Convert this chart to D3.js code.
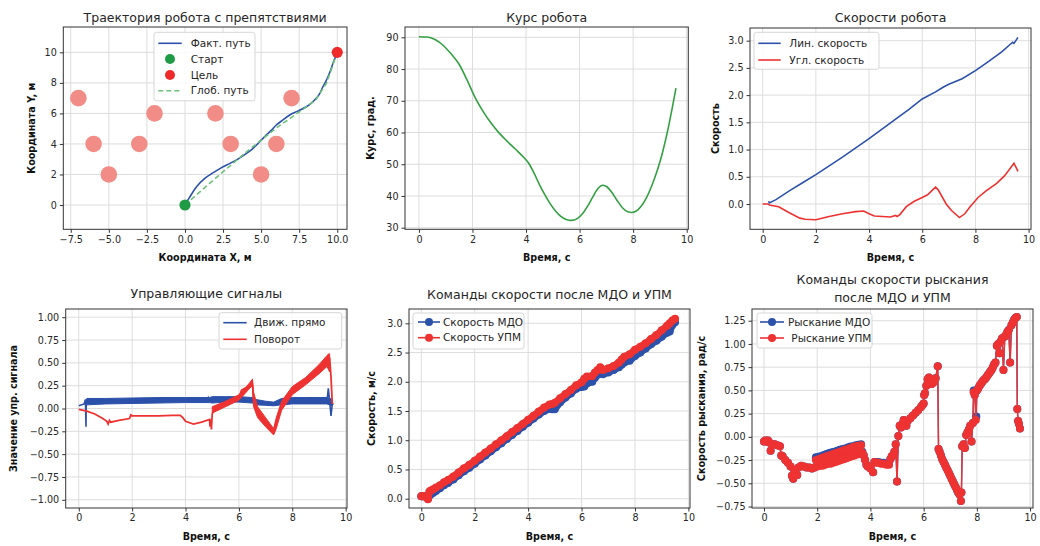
<!DOCTYPE html>
<html>
<head>
<meta charset="utf-8">
<script src="https://cdnjs.cloudflare.com/ajax/libs/d3/7.8.5/d3.min.js"></script>
<style>
body { margin: 0; background: #fff; }
svg { font-family: "DejaVu Sans", sans-serif; }
</style>
</head>
<body>
<svg id="fig" width="1040" height="546"></svg>
<script>
// траектория
var obstX = [-7, -6, -5, -3, -2, 2, 3, 5, 6, 7];
var obstY = [7, 4, 2, 4, 6, 6, 4, 2, 4, 7];
var pathX = [0, 0.3, 0.76, 1.3, 1.86, 2.4, 2.95, 3.5, 4.04, 4.4, 4.7, 5.0, 5.35, 5.7, 6.0, 6.4, 6.88, 7.4, 7.97, 8.3, 8.62, 8.85, 9.06, 9.25, 9.39, 9.55, 9.72, 9.88, 10];
var pathY = [0, 0.5, 1.2, 1.75, 2.12, 2.45, 2.73, 3.02, 3.38, 3.65, 3.93, 4.25, 4.59, 4.92, 5.24, 5.55, 5.9, 6.15, 6.44, 6.68, 6.99, 7.3, 7.75, 8.1, 8.4, 8.8, 9.28, 9.7, 10];
var globX = [0, 2, 4, 6, 7.8, 8.6, 9.3, 10];
var globY = [0, 1.75, 3.45, 5.05, 6.3, 6.9, 8.0, 10];
var startPt = [0, 0], goalPt = [10, 10];

// курс
var headT = [0, 0.3, 0.6, 0.9, 1.2, 1.5, 1.8, 2.1, 2.4, 2.7, 3.0, 3.3, 3.6, 3.9, 4.1, 4.3, 4.5, 4.7, 4.9, 5.1, 5.3, 5.5, 5.7, 5.9, 6.1, 6.3, 6.5, 6.7, 6.85, 7.0, 7.2, 7.4, 7.6, 7.8, 7.95, 8.1, 8.3, 8.5, 8.7, 8.9, 9.1, 9.3, 9.45, 9.6];
var headV = [90.2, 90.1, 89.3, 87.5, 84.8, 81.5, 76.5, 71.0, 66.6, 62.9, 59.8, 57.2, 54.8, 52.3, 50.3, 47.2, 43.6, 40.4, 37.6, 35.3, 33.6, 32.6, 32.3, 32.8, 34.3, 36.8, 39.8, 42.5, 43.4, 43.0, 41.2, 38.6, 36.3, 35.0, 34.8, 35.2, 36.8, 39.5, 43.3, 48, 53.8, 61, 67.3, 74];

// скорости
var linT = [0.22, 0.25, 0.5, 1, 1.5, 2, 2.5, 3, 3.5, 4, 4.5, 5, 5.5, 6, 6.5, 6.8, 7, 7.5, 8, 8.5, 9, 9.3, 9.4, 9.45, 9.6];
var linV = [0.05, 0.02, 0.08, 0.24, 0.39, 0.54, 0.7, 0.86, 1.03, 1.2, 1.38, 1.56, 1.74, 1.93, 2.06, 2.15, 2.2, 2.3, 2.45, 2.62, 2.8, 2.93, 2.97, 2.95, 3.06];
var angT = [0, 0.2, 0.25, 0.6, 1.0, 1.4, 1.6, 2.0, 2.5, 3.0, 3.5, 3.8, 4.0, 4.2, 4.5, 4.8, 5.0, 5.05, 5.15, 5.4, 5.7, 6.0, 6.2, 6.5, 6.6, 6.9, 7.1, 7.4, 7.6, 7.8, 8.1, 8.4, 8.8, 9.1, 9.45, 9.6];
var angV = [0, 0, -0.02, -0.05, -0.16, -0.26, -0.28, -0.29, -0.23, -0.18, -0.14, -0.13, -0.18, -0.22, -0.23, -0.24, -0.21, -0.23, -0.2, -0.05, 0.05, 0.12, 0.17, 0.31, 0.26, 0.0, -0.12, -0.25, -0.18, -0.05, 0.12, 0.24, 0.38, 0.52, 0.75, 0.6];

// управляющие сигналы
var fwdT = [0, 0.2, 0.25, 0.27, 0.28, 0.3, 0.5, 1, 2, 3, 4, 4.8, 4.85, 4.9, 5.0, 5.5, 6, 6.3, 6.5, 6.6, 6.8, 7, 7.3, 7.5, 7.7, 7.9, 8.2, 8.6, 9, 9.3, 9.35, 9.4, 9.45, 9.5, 9.55];
var fwdV = [0.03, 0.05, 0.1, -0.2, 0.1, 0.06, 0.075, 0.08, 0.08, 0.085, 0.09, 0.09, 0.12, 0.08, 0.09, 0.095, 0.09, 0.085, 0.08, 0.06, 0.055, 0.045, 0.04, 0.05, 0.06, 0.07, 0.075, 0.075, 0.075, 0.08, 0.22, 0.08, -0.08, 0.05, 0.05];
var fwdBandT = [0.3, 1, 2, 3, 4, 4.9, 5.0, 5.5, 6, 6.5, 6.6, 7, 7.3, 7.6, 8, 8.5, 9, 9.3, 9.5];
var fwdBandLo = [0.04, 0.05, 0.055, 0.06, 0.065, 0.065, 0.06, 0.07, 0.07, 0.06, 0.04, 0.035, 0.03, 0.04, 0.05, 0.05, 0.05, 0.05, 0.03];
var fwdBandHi = [0.11, 0.11, 0.115, 0.12, 0.12, 0.12, 0.13, 0.13, 0.13, 0.12, 0.1, 0.08, 0.07, 0.11, 0.12, 0.12, 0.12, 0.12, 0.1];
var turnT = [0, 0.3, 0.6, 0.9, 1.05, 1.1, 1.15, 1.2, 1.5, 1.9, 1.95, 2.0, 2.5, 3, 3.5, 3.8, 3.9, 4.0, 4.3, 4.6, 4.9, 4.92, 4.95, 4.97, 5.0, 5.1, 5.5, 6.0, 6.1, 6.4, 6.5, 6.55, 6.7, 7.0, 7.3, 7.35, 7.6, 8.0, 8.5, 9.0, 9.3, 9.35, 9.4, 9.45, 9.5];
var turnV = [-0.01, -0.03, -0.06, -0.11, -0.14, -0.17, -0.13, -0.15, -0.13, -0.11, -0.07, -0.08, -0.08, -0.08, -0.075, -0.075, -0.1, -0.14, -0.17, -0.15, -0.12, -0.2, -0.12, -0.23, -0.06, 0.0, 0.05, 0.12, 0.2, 0.25, 0.3, 0.1, -0.05, -0.15, -0.26, -0.2, 0.04, 0.19, 0.3, 0.43, 0.52, 0.58, 0.55, 0.35, 0.05];
var turnBandT = [5.0, 5.5, 6.0, 6.4, 6.5, 6.55, 6.7, 7.0, 7.3, 7.4, 7.6, 8.0, 8.5, 9.0, 9.3, 9.4];
var turnBandLo = [-0.05, 0.02, 0.09, 0.22, 0.25, 0.02, -0.1, -0.2, -0.29, -0.22, -0.02, 0.15, 0.26, 0.38, 0.46, 0.4];
var turnBandHi = [0.02, 0.08, 0.15, 0.28, 0.32, 0.18, 0.02, -0.1, -0.22, -0.1, 0.08, 0.24, 0.34, 0.48, 0.58, 0.6];

// команды скорости
var velT = [0, 0.05, 0.1, 0.2, 0.25, 0.3, 0.35, 0.45, 0.55, 0.7, 0.85, 1.0, 1.2, 1.4, 1.6, 1.8, 2.0, 2.2, 2.4, 2.6, 2.8, 3.0, 3.2, 3.4, 3.6, 3.8, 4.0, 4.2, 4.4, 4.6, 4.8, 4.9, 5.0, 5.2, 5.4, 5.6, 5.8, 6.0, 6.1, 6.2, 6.4, 6.5, 6.6, 6.7, 6.8, 7.0, 7.2, 7.4, 7.5, 7.6, 7.8, 8.0, 8.2, 8.4, 8.6, 8.8, 9.0, 9.2, 9.3, 9.4, 9.5];
var velMdo = [0.04, 0.04, 0.04, 0.03, 0.0, 0.05, 0.07, 0.1, 0.13, 0.18, 0.23, 0.27, 0.33, 0.4, 0.47, 0.53, 0.6, 0.67, 0.74, 0.81, 0.88, 0.95, 1.02, 1.09, 1.16, 1.23, 1.3, 1.37, 1.44, 1.5, 1.54, 1.53, 1.53, 1.65, 1.73, 1.8, 1.88, 1.91, 1.92, 1.97, 2.0, 2.07, 2.12, 2.14, 2.13, 2.16, 2.2, 2.25, 2.29, 2.33, 2.36, 2.44, 2.5, 2.57, 2.64, 2.7, 2.77, 2.84, 2.86, 2.97, 3.02];
var velUpm = [0.04, 0.04, 0.04, 0.03, -0.01, 0.12, 0.14, 0.16, 0.19, 0.23, 0.28, 0.32, 0.38, 0.45, 0.52, 0.58, 0.65, 0.72, 0.79, 0.86, 0.93, 1.0, 1.07, 1.14, 1.21, 1.28, 1.35, 1.42, 1.49, 1.56, 1.61, 1.62, 1.64, 1.72, 1.79, 1.86, 1.94, 1.99, 2.05, 2.09, 2.1, 2.16, 2.2, 2.25, 2.2, 2.23, 2.27, 2.33, 2.38, 2.43, 2.47, 2.55, 2.6, 2.66, 2.73, 2.8, 2.88, 2.96, 3.0, 3.05, 3.08];

// команды рыскания [t, v]
var yawUpm = [[0,-.05],[.05,-.04],[.1,-.05],[.15,-.04],[.2,-.06],[.25,-.15],[.3,-.08],[.4,-.08],[.5,-.09],[.6,-.1],[.65,-.2],[.7,-.21],[.8,-.25],[.9,-.28],[1.0,-.32],[1.05,-.42],[1.1,-.45],[1.15,-.36],[1.2,-.4],[1.25,-.41],[1.3,-.33],[1.4,-.31],[1.5,-.32],[1.6,-.33],[1.7,-.33],[1.8,-.34],[1.9,-.33],
  [1.95,-.25],[2.0,-.32],[2.05,-.24],[2.1,-.31],[2.15,-.23],[2.2,-.31],[2.25,-.22],[2.3,-.3],[2.35,-.21],[2.4,-.29],[2.45,-.2],[2.5,-.29],[2.55,-.19],[2.6,-.28],[2.65,-.18],[2.7,-.27],[2.75,-.17],[2.8,-.26],[2.85,-.16],[2.9,-.25],[2.95,-.15],[3.0,-.24],[3.05,-.14],[3.1,-.23],[3.15,-.13],[3.2,-.22],[3.25,-.12],[3.3,-.21],[3.35,-.11],[3.4,-.2],[3.45,-.1],[3.5,-.19],[3.55,-.095],[3.6,-.18],[3.65,-.09],[3.7,-.17],
  [3.75,-.2],[3.8,-.25],[3.85,-.3],[3.9,-.32],[4.0,-.34],[4.1,-.38],[4.15,-.27],[4.2,-.28],[4.3,-.28],[4.4,-.29],[4.5,-.29],[4.6,-.3],[4.7,-.3],[4.75,-.24],[4.8,-.21],[4.85,-.2],[4.9,-.16],[4.95,-.08],[5.0,-.48],[5.05,.01],[5.1,.12],
  [5.15,.1],[5.2,.14],[5.25,.18],[5.3,.17],[5.35,.12],[5.4,.17],[5.5,.2],[5.6,.23],[5.7,.26],[5.8,.29],[5.9,.32],[5.95,.34],[6.0,.36],[6.02,.45],[6.05,.47],[6.1,.55],[6.15,.62],[6.2,.64],[6.25,.6],[6.3,.57],[6.35,.58],[6.4,.6],[6.45,.63],[6.53,.76],
  [6.56,-.13],[6.6,-.16],[6.65,-.2],[6.7,-.24],[6.75,-.27],[6.8,-.3],[6.85,-.33],[6.9,-.36],[6.95,-.39],[7.0,-.42],[7.05,-.45],[7.1,-.48],[7.15,-.51],[7.2,-.54],[7.25,-.57],[7.3,-.6],[7.35,-.62],[7.4,-.69],[7.42,-.6],
  [7.45,-.1],[7.5,-.08],[7.55,-.12],[7.6,.02],[7.65,.05],[7.7,.08],[7.75,.12],[7.8,-.05],[7.85,.15],[7.88,.48],[7.92,.45],[7.96,.18],[8.0,.5],[8.05,.52],[8.1,.55],[8.15,.57],[8.2,.59],[8.25,.61],[8.3,.62],[8.35,.64],[8.4,.66],[8.45,.68],[8.5,.7],[8.55,.72],[8.6,.75],[8.65,.78],[8.7,.8],[8.75,.98],[8.8,1.0],[8.85,.9],[8.9,1.03],[8.95,1.06],[9.0,.72],[9.05,1.08],[9.1,1.1],[9.15,1.13],[9.2,1.15],[9.25,.8],[9.3,1.2],[9.35,1.23],[9.4,1.26],[9.45,1.28],[9.5,1.29],[9.52,.3],[9.55,.17],[9.58,.14],[9.62,.09]];
var yawMdo = [[0,-.05],[.05,-.04],[.1,-.05],[.15,-.04],[.2,-.06],[.25,-.15],[.3,-.08],[.4,-.08],[.5,-.09],[.6,-.1],[.65,-.2],[.7,-.21],[.8,-.25],[.9,-.28],[1.0,-.32],[1.05,-.42],[1.1,-.45],[1.15,-.36],[1.2,-.4],[1.25,-.41],[1.3,-.33],[1.4,-.31],[1.5,-.32],[1.6,-.33],[1.7,-.33],[1.8,-.34],[1.9,-.33],
  [1.95,-.22],[2.0,-.31],[2.05,-.215],[2.1,-.3],[2.15,-.205],[2.2,-.3],[2.25,-.195],[2.3,-.29],[2.35,-.185],[2.4,-.28],[2.45,-.175],[2.5,-.28],[2.55,-.165],[2.6,-.27],[2.65,-.16],[2.7,-.26],[2.75,-.15],[2.8,-.25],[2.85,-.14],[2.9,-.24],[2.95,-.13],[3.0,-.23],[3.05,-.125],[3.1,-.22],[3.15,-.115],[3.2,-.21],[3.25,-.105],[3.3,-.2],[3.35,-.1],[3.4,-.19],[3.45,-.09],[3.5,-.18],[3.55,-.085],[3.6,-.17],[3.65,-.08],[3.7,-.16],
  [3.75,-.2],[3.8,-.25],[3.85,-.3],[3.9,-.32],[4.0,-.34],[4.1,-.38],[4.15,-.27],[4.2,-.27],[4.3,-.27],[4.4,-.28],[4.5,-.28],[4.6,-.29],[4.7,-.29],[4.75,-.24],[4.8,-.21],[4.85,-.2],[4.9,-.16],[4.95,-.08],[5.0,-.48],[5.05,.01],[5.1,.12],
  [5.15,.1],[5.2,.14],[5.25,.18],[5.3,.17],[5.35,.12],[5.4,.17],[5.5,.2],[5.6,.23],[5.7,.26],[5.8,.29],[5.9,.32],[5.95,.34],[6.0,.36],[6.02,.45],[6.05,.47],[6.1,.55],[6.15,.62],[6.2,.64],[6.25,.6],[6.3,.57],[6.35,.58],[6.4,.6],[6.45,.63],[6.53,.76],
  [6.56,-.13],[6.6,-.16],[6.65,-.2],[6.7,-.24],[6.75,-.27],[6.8,-.3],[6.85,-.33],[6.9,-.36],[6.95,-.39],[7.0,-.42],[7.05,-.45],[7.1,-.48],[7.15,-.51],[7.2,-.54],[7.25,-.57],[7.3,-.6],[7.35,-.62],[7.4,-.69],[7.42,-.6],
  [7.45,-.1],[7.5,-.08],[7.55,-.12],[7.6,.02],[7.65,.05],[7.7,.08],[7.75,.12],[7.8,-.05],[7.85,.15],[7.88,.5],[7.92,.45],[7.98,.22],[8.0,.5],[8.05,.52],[8.1,.55],[8.15,.57],[8.2,.59],[8.25,.61],[8.3,.62],[8.35,.64],[8.4,.66],[8.45,.68],[8.5,.7],[8.55,.72],[8.6,.75],[8.65,.78],[8.7,.8],[8.75,.98],[8.8,1.0],[8.85,.9],[8.9,1.03],[8.95,1.06],[9.0,.72],[9.05,1.08],[9.1,1.1],[9.15,1.13],[9.2,1.15],[9.25,.8],[9.3,1.2],[9.35,1.23],[9.4,1.26],[9.45,1.28],[9.5,1.29],[9.52,.3],[9.55,.17],[9.58,.14],[9.62,.09]];

var BLUE = '#2c51aa', RED = '#ee3232', GREEN = '#34a043';

var svg = d3.select('#fig');
var clipN = 0;
var f1 = d3.format('.1f'), f2 = d3.format('.2f'), f0 = d3.format('d');

function panel(o) {
	var x = d3.scaleLinear().domain(o.xd).range([o.l, o.r]);
	var y = d3.scaleLinear().domain(o.yd).range([o.b, o.t]);
	var g = svg.append('g');
	var cid = 'clip' + (clipN++);
	g.append('clipPath').attr('id', cid).append('rect')
		.attr('x', o.l).attr('y', o.t).attr('width', o.r - o.l).attr('height', o.b - o.t);

	var grid = g.append('g').attr('stroke', '#dddddd').attr('stroke-width', 1);
	grid.selectAll('.gx').data(o.xt).join('line').attr('class', 'gx')
		.attr('x1', d => x(d)).attr('x2', d => x(d)).attr('y1', o.t).attr('y2', o.b);
	grid.selectAll('.gy').data(o.yt).join('line').attr('class', 'gy')
		.attr('x1', o.l).attr('x2', o.r).attr('y1', d => y(d)).attr('y2', d => y(d));

	var plot = g.append('g').attr('clip-path', 'url(#' + cid + ')');

	var xa = g.append('g').attr('transform', 'translate(0,' + o.b + ')')
		.call(d3.axisBottom(x).tickValues(o.xt).tickFormat(o.xf).tickSizeInner(3.5).tickSizeOuter(0).tickPadding(3));
	var ya = g.append('g').attr('transform', 'translate(' + o.l + ',0)')
		.call(d3.axisLeft(y).tickValues(o.yt).tickFormat(o.yf).tickSizeInner(3.5).tickSizeOuter(0).tickPadding(3));
	[xa, ya].forEach(function(a) {
		a.attr('font-family', null).attr('font-size', 9.6);
		a.select('.domain').remove();
		a.selectAll('line').attr('stroke', '#333');
		a.selectAll('text').attr('fill', '#262626');
	});

	g.append('rect').attr('x', o.l).attr('y', o.t).attr('width', o.r - o.l).attr('height', o.b - o.t)
		.attr('fill', 'none').attr('stroke', '#333').attr('stroke-width', 1);

	o.title.forEach(function(s, i) {
		g.append('text').attr('x', (o.l + o.r) / 2).attr('y', o.tb[i]).attr('text-anchor', 'middle')
			.attr('font-size', 12.5).attr('fill', '#262626').text(s);
	});
	g.append('text').attr('x', (o.l + o.r) / 2).attr('y', o.b + 31.5).attr('text-anchor', 'middle')
		.attr('font-size', 9.6).attr('font-weight', 'bold').attr('fill', '#111').text(o.xl);
	g.append('text').attr('transform', 'translate(' + o.ylx + ',' + (o.t + o.b) / 2 + ') rotate(-90)')
		.attr('text-anchor', 'middle').attr('dy', '0.36em')
		.attr('font-size', 9.6).attr('font-weight', 'bold').attr('fill', '#111').text(o.yl);

	return {g: g, plot: plot, x: x, y: y};
}

function legend(g, o) {
	var lg = g.append('g');
	lg.append('rect').attr('x', o.x).attr('y', o.y).attr('width', o.w).attr('height', o.h).attr('rx', 2.5)
		.attr('fill', '#fff').attr('fill-opacity', 0.85).attr('stroke', '#d6d6d6').attr('stroke-width', 1);
	o.items.forEach(function(it, i) {
		var cy = o.rows[i];
		if (it.line) {
			lg.append('line').attr('x1', o.h1).attr('x2', o.h2).attr('y1', cy).attr('y2', cy)
				.attr('stroke', it.color).attr('stroke-width', it.lw || 1.6).attr('stroke-dasharray', it.dash || null);
		}
		if (it.r) {
			lg.append('circle').attr('cx', o.mx || (o.h1 + o.h2) / 2).attr('cy', cy).attr('r', it.r).attr('fill', it.color);
		}
		lg.append('text').attr('x', o.tx).attr('y', cy).attr('dy', '0.36em')
			.attr('font-size', 10.5).attr('fill', '#262626').text(it.label);
	});
}

function xy(xs, ys) { return xs.map(function(d, i) { return [d, ys[i]]; }); }

// 1. траектория
var p1 = panel({l: 63.3, r: 347, t: 27, b: 229.3, xd: [-7.99, 10.64], yd: [-1.59, 11.66],
	xt: [-7.5, -5, -2.5, 0, 2.5, 5, 7.5, 10], yt: [0, 2, 4, 6, 8, 10], xf: f1, yf: f0,
	title: ['Траектория робота с препятствиями'], tb: [21.5],
	xl: 'Координата X, м', yl: 'Координата Y, м', ylx: 32});
var line1 = d3.line().x(d => p1.x(d[0])).y(d => p1.y(d[1]));
p1.plot.selectAll('.obst').data(xy(obstX, obstY)).join('circle').attr('class', 'obst')
	.attr('cx', d => p1.x(d[0])).attr('cy', d => p1.y(d[1])).attr('r', 8.3).attr('fill', '#f28c87');
p1.plot.append('path').datum(xy(pathX, pathY)).attr('d', line1.curve(d3.curveCatmullRom))
	.attr('fill', 'none').attr('stroke', BLUE).attr('stroke-width', 1.6);
p1.plot.append('path').datum(xy(globX, globY)).attr('d', d3.line().x(d => p1.x(d[0])).y(d => p1.y(d[1])))
	.attr('fill', 'none').attr('stroke', '#6cc07a').attr('stroke-width', 1.6).attr('stroke-dasharray', '5,3');
p1.g.append('circle').attr('cx', p1.x(startPt[0])).attr('cy', p1.y(startPt[1])).attr('r', 5.6).attr('fill', '#1f9a45');
p1.g.append('circle').attr('cx', p1.x(goalPt[0])).attr('cy', p1.y(goalPt[1])).attr('r', 5.6).attr('fill', '#ee2a2a');
legend(p1.g, {x: 154, y: 32.3, w: 101, h: 68.5, h1: 158.3, h2: 181.7, tx: 190.7, rows: [43.3, 59, 75, 90.7],
	items: [{label: 'Факт. путь', line: true, color: BLUE},
		{label: 'Старт', r: 5, color: '#1f9a45'},
		{label: 'Цель', r: 5, color: '#ee2a2a'},
		{label: 'Глоб. путь', line: true, color: '#6cc07a', dash: '5,3'}]});

// 2. курс
var p2 = panel({l: 405, r: 688.3, t: 27, b: 229.3, xd: [-0.52, 10.06], yd: [29.5, 93.25],
	xt: [0, 2, 4, 6, 8, 10], yt: [30, 40, 50, 60, 70, 80, 90], xf: f0, yf: f0,
	title: ['Курс робота'], tb: [21.5], xl: 'Время, с', yl: 'Курс, град.', ylx: 371});
p2.plot.append('path').datum(xy(headT, headV))
	.attr('d', d3.line().x(d => p2.x(d[0])).y(d => p2.y(d[1])).curve(d3.curveMonotoneX))
	.attr('fill', 'none').attr('stroke', GREEN).attr('stroke-width', 1.6);

// 3. скорости
var p3 = panel({l: 750, r: 1031, t: 28, b: 229.3, xd: [-0.477, 10.09], yd: [-0.465, 3.233],
	xt: [0, 2, 4, 6, 8, 10], yt: [0, 0.5, 1, 1.5, 2, 2.5, 3], xf: f0, yf: f1,
	title: ['Скорости робота'], tb: [21.5], xl: 'Время, с', yl: 'Скорость', ylx: 716});
var line3 = d3.line().x(d => p3.x(d[0])).y(d => p3.y(d[1]));
p3.plot.append('path').datum(xy(linT, linV)).attr('d', line3)
	.attr('fill', 'none').attr('stroke', BLUE).attr('stroke-width', 1.6);
p3.plot.append('path').datum(xy(angT, angV)).attr('d', line3)
	.attr('fill', 'none').attr('stroke', RED).attr('stroke-width', 1.6);
legend(p3.g, {x: 754, y: 32.3, w: 125, h: 37, h1: 758.3, h2: 780.7, tx: 789.3, rows: [43.3, 60],
	items: [{label: 'Лин. скорость', line: true, color: BLUE},
		{label: 'Угл. скорость', line: true, color: RED}]});

// 4. управляющие сигналы
var p4 = panel({l: 65.7, r: 347, t: 309, b: 508, xd: [-0.49, 10.05], yd: [-1.09, 1.09],
	xt: [0, 2, 4, 6, 8, 10], yt: [-1, -0.75, -0.5, -0.25, 0, 0.25, 0.5, 0.75, 1], xf: f0, yf: f2,
	title: ['Управляющие сигналы'], tb: [298], xl: 'Время, с', yl: 'Значение упр. сигнала', ylx: 14});
var line4 = d3.line().x(d => p4.x(d[0])).y(d => p4.y(d[1]));
var area4 = d3.area().x(d => p4.x(d[0])).y0(d => p4.y(d[1])).y1(d => p4.y(d[2]));
p4.plot.append('path').datum(fwdBandT.map((t, i) => [t, fwdBandLo[i], fwdBandHi[i]])).attr('d', area4)
	.attr('fill', BLUE).attr('stroke', BLUE).attr('stroke-width', 1);
p4.plot.append('path').datum(xy(fwdT, fwdV)).attr('d', line4)
	.attr('fill', 'none').attr('stroke', BLUE).attr('stroke-width', 1.6);
p4.plot.append('path').datum(turnBandT.map((t, i) => [t, turnBandLo[i], turnBandHi[i]])).attr('d', area4)
	.attr('fill', RED).attr('stroke', RED).attr('stroke-width', 1);
p4.plot.append('path').datum(xy(turnT, turnV)).attr('d', line4)
	.attr('fill', 'none').attr('stroke', RED).attr('stroke-width', 1.8);
legend(p4.g, {x: 219, y: 312.7, w: 122.7, h: 36.3, h1: 223.3, h2: 246.7, tx: 254, rows: [322.7, 339.3],
	items: [{label: 'Движ. прямо', line: true, color: BLUE},
		{label: 'Поворот', line: true, color: RED}]});

// 5. команды скорости
var p5 = panel({l: 409, r: 690, t: 309, b: 508, xd: [-0.46, 10.06], yd: [-0.159, 3.245],
	xt: [0, 2, 4, 6, 8, 10], yt: [0, 0.5, 1, 1.5, 2, 2.5, 3], xf: f0, yf: f1,
	title: ['Команды скорости после МДО и УПМ'], tb: [299], xl: 'Время, с', yl: 'Скорость, м/с', ylx: 372});
// markers are drawn so densely in the original that they merge into a band, lw mimics that
function markerSeries(p, data, color, lw) {
	p.plot.append('path').datum(data).attr('d', d3.line().x(d => p.x(d[0])).y(d => p.y(d[1])))
		.attr('fill', 'none').attr('stroke', color).attr('stroke-width', lw || 1.4)
		.attr('stroke-linejoin', 'round').attr('stroke-linecap', 'round');
	p.plot.append('g').selectAll('circle').data(data).join('circle')
		.attr('cx', d => p.x(d[0])).attr('cy', d => p.y(d[1])).attr('r', 4).attr('fill', color);
}
markerSeries(p5, xy(velT, velMdo), BLUE, 7);
markerSeries(p5, xy(velT, velUpm), RED, 7);
legend(p5.g, {x: 413, y: 313, w: 111, h: 36, h1: 418, h2: 440, mx: 429, tx: 443, rows: [322, 337.7],
	items: [{label: 'Скорость МДО', line: true, r: 4, color: BLUE},
		{label: 'Скорость УПМ', line: true, r: 4, color: RED}]});

// 6. команды рыскания
var p6 = panel({l: 752, r: 1033, t: 309, b: 508, xd: [-0.45, 10.11], yd: [-0.766, 1.376],
	xt: [0, 2, 4, 6, 8, 10], yt: [-0.75, -0.5, -0.25, 0, 0.25, 0.5, 0.75, 1, 1.25], xf: f0, yf: f2,
	title: ['Команды скорости рыскания', 'после МДО и УПМ'], tb: [284, 302],
	xl: 'Время, с', yl: 'Скорость рыскания, рад/с', ylx: 702});
markerSeries(p6, yawMdo, BLUE);
markerSeries(p6, yawUpm, RED);
legend(p6.g, {x: 757, y: 313, w: 115, h: 35, h1: 760, h2: 784, mx: 772, tx: 788, rows: [322, 338],
	items: [{label: 'Рыскание МДО', line: true, r: 4, color: BLUE},
		{label: '\u00a0Рыскание УПМ', line: true, r: 4, color: RED}]});
</script>
</body>
</html>
